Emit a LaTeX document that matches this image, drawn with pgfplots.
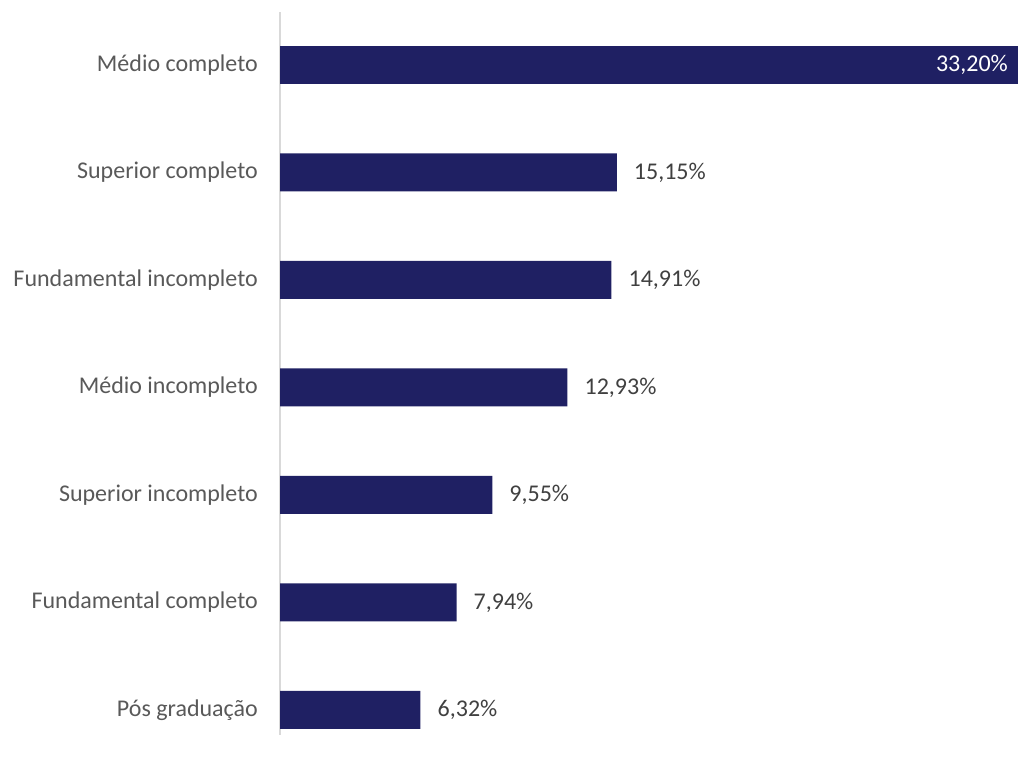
\documentclass[border=0pt]{standalone}
\usepackage{pgfplots}
\pgfplotsset{compat=1.18}
\usepackage{fontspec}
\setmainfont{Carlito}
\definecolor{barc}{HTML}{1F2063}
\definecolor{lab}{HTML}{595959}
\definecolor{val}{HTML}{404040}
\definecolor{axc}{HTML}{D9D9D9}
\begin{document}
\begin{tikzpicture}[x=1bp,y=1bp]
\path (0,0) rectangle (1018,758);
\begin{axis}[
  at={(280bp,23bp)}, anchor=south west,
  scale only axis, width=738bp, height=723bp,
  xmin=0, xmax=33.2, ymin=-0.233, ymax=6.493,
  axis x line=none,
  axis y line*=left,
  y axis line style={draw=axc, line width=1.5bp, -},
  ytick={0,1,2,3,4,5,6},
  yticklabels={Pós graduação, Fundamental completo, Superior incompleto, Médio incompleto, Fundamental incompleto, Superior completo, Médio completo},
  major tick length=0pt,
  yticklabel style={font=\fontsize{24bp}{28bp}\selectfont, text=lab, anchor=east, inner sep=0pt, xshift=-22bp},
  xbar, bar shift=0pt, bar width=0.353,
  /pgf/number format/.cd, use comma, fixed, fixed zerofill, precision=2, assume math mode=true,
  /pgfplots/.cd,
  nodes near coords={\pgfmathprintnumber{\pgfplotspointmeta}\%},
  every node near coord/.append style={font=\fontsize{24bp}{28bp}\selectfont, text=val, inner sep=0pt, anchor=west, xshift=17bp},
  clip=false,
]
\addplot[fill=barc, draw=none] coordinates {(6.32,0) (7.94,1) (9.55,2) (12.93,3) (14.91,4) (15.15,5)};
\addplot[fill=barc, draw=none, every node near coord/.append style={text=white, anchor=east, xshift=-27bp}] coordinates {(33.20,6)};
\end{axis}
\end{tikzpicture}
\end{document}
